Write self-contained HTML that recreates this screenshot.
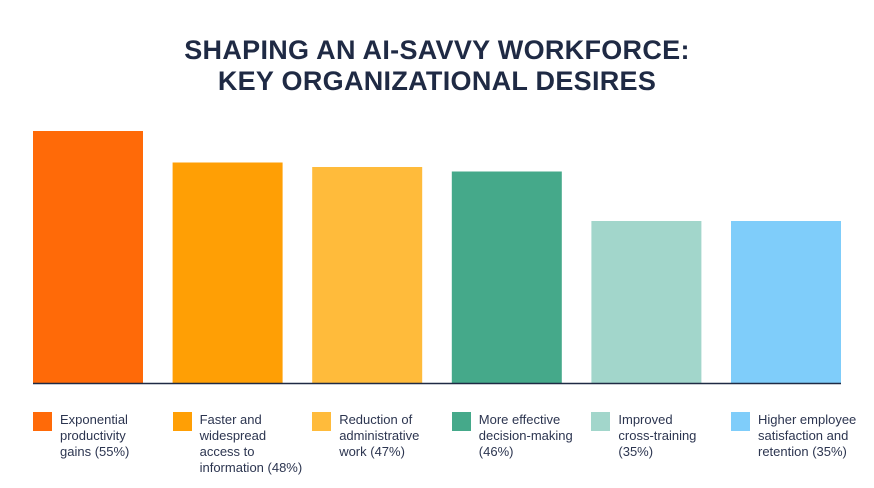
<!DOCTYPE html>
<html><head><meta charset="utf-8"><style>
body{margin:0;width:874px;height:488px;background:#fff;font-family:"Liberation Sans",sans-serif;overflow:hidden;position:relative}
.title{position:absolute;left:0;width:874px;top:35px;text-align:center;font-weight:bold;font-size:27px;line-height:31px;color:#1f2a44;letter-spacing:0.3px}
.leg{position:absolute;top:412px;display:flex}
.sw{width:19px;height:19px;flex:none}
.lt{margin-left:8px;font-size:13px;line-height:16px;color:#2c3550;margin-top:0px}
</style></head><body>
<div class="title">SHAPING AN AI-SAVVY WORKFORCE:<br>KEY ORGANIZATIONAL DESIRES</div>
<svg id="chart" width="874" height="400" style="position:absolute;left:0;top:0"></svg>
<div id="legend"></div>
<script>
const categories=["Exponential productivity gains","Faster and widespread access to information","Reduction of administrative work","More effective decision-making","Improved cross-training","Higher employee satisfaction and retention"];
const legendLabels=["Exponential<br>productivity<br>gains (55%)","Faster and<br>widespread<br>access to<br>information (48%)","Reduction of<br>administrative<br>work (47%)","More effective<br>decision-making<br>(46%)","Improved<br>cross-training<br>(35%)","Higher employee<br>satisfaction and<br>retention (35%)"];
const values=[55,48,47,46,35,35];
const colors=["#ff6a08","#ff9f05","#ffbb3b","#45a98a","#a2d6cb","#7fcdfa"];
const svg=document.getElementById('chart');
const NS="http://www.w3.org/2000/svg";
const baseY=383, x0=33, pitch=139.6, bw=110;
function yScale(v){return baseY-4.5*(v+1);}
function xScale(i){return x0+i*pitch;}
values.forEach((v,i)=>{
  const r=document.createElementNS(NS,'rect');
  r.setAttribute('x',xScale(i));r.setAttribute('y',yScale(v));
  r.setAttribute('width',bw);r.setAttribute('height',baseY-yScale(v));
  r.setAttribute('fill',colors[i]);
  
  
  svg.appendChild(r);
});
const ax=document.createElementNS(NS,'line');
ax.setAttribute('x1',33);ax.setAttribute('x2',841);ax.setAttribute('y1',baseY+0.5);ax.setAttribute('y2',baseY+0.5);
ax.setAttribute('stroke','#1f2a44');ax.setAttribute('stroke-width',1.5);


svg.appendChild(ax);
const leg=document.getElementById('legend');


legendLabels.forEach((t,i)=>{
  const d=document.createElement('div');d.className='leg';d.style.left=xScale(i)+'px';
  
  
  d.innerHTML='<div class="sw" style="background:'+colors[i]+'"></div><div class="lt">'+t+'</div>';
  leg.appendChild(d);
});
</script>
</body></html>
